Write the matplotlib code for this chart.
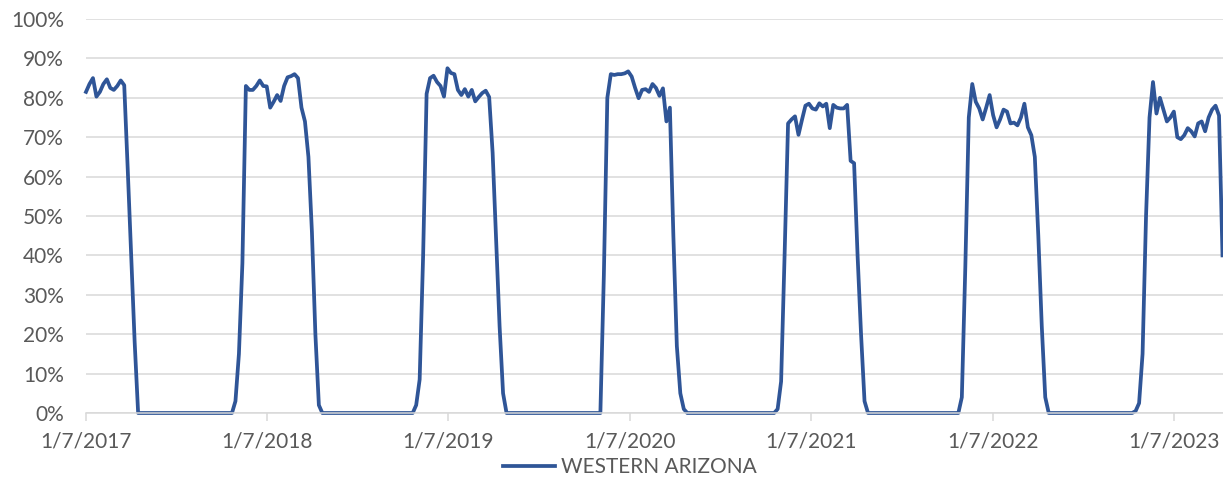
import numpy as np
import pandas as pd
import matplotlib
matplotlib.use("Agg")
import matplotlib.pyplot as plt
import matplotlib.dates as mdates
from matplotlib.ticker import PercentFormatter, MultipleLocator, FuncFormatter

plt.rcParams["font.family"] = ["Lato", "DejaVu Sans"]

# weekly series, first week 1/7/2017
weeks = pd.date_range("2017-01-07", periods=328, freq="7D")

# in-season values (%); weeks outside a season are 0
season_2017 = [81.5, 83.5, 85, 80.3, 81.5, 83.5, 84.7, 82.5, 82, 83, 84.4, 83.2, 62, 40, 18]
season_2018 = [3, 15, 38, 83, 82, 82, 83, 84.4, 83, 82.9, 77.5, 79, 80.7, 79.2, 83, 85.2,
               85.5, 86, 85, 77.5, 74, 65, 46, 20, 2]
season_2019 = [2, 8.5, 40, 81, 85, 85.6, 84, 83, 80.3, 87.5, 86.3, 86, 82, 80.7, 82.2, 80.3,
               82, 79.1, 80.2, 81.2, 81.8, 80.2, 66, 44, 22, 5]
season_2020 = [35, 80, 86, 85.8, 86, 86, 86.2, 86.7, 85.4, 82.5, 79.9, 82, 82.2, 81.5, 83.5,
               82.5, 80.5, 82.4, 74, 77.5, 45, 17, 5, 1]
season_2021 = [1, 8, 40, 73.5, 74.5, 75.3, 70.6, 74.4, 78, 78.5, 77.3, 77, 78.6, 77.8, 78.5,
               72.3, 78.2, 77.5, 77.3, 77.3, 78.2, 64, 63.4, 40, 20, 3]
season_2022 = [4, 37, 75, 83.5, 79, 77.3, 74.5, 77.5, 80.7, 75.6, 72.5, 74.5, 77, 76.5, 73.5,
               73.7, 73, 75, 78.5, 72.5, 70.5, 65, 45, 22, 4]
season_2023 = [0.5, 2.5, 15, 50, 75, 84, 76, 80, 77, 74, 75, 76.5, 70, 69.5, 70.5, 72.3, 71.5,
               70.2, 73.5, 74, 71.5, 75, 77, 78, 75.5, 40]

# week number where each season's list begins
season_start = [0, 43, 95, 149, 199, 252, 302]
seasons = [season_2017, season_2018, season_2019, season_2020,
           season_2021, season_2022, season_2023]

values = np.zeros(len(weeks))
for start, vals in zip(season_start, seasons):
    values[start:start + len(vals)] = vals

fig = plt.figure(figsize=(12.23, 4.9), dpi=100)
ax = fig.add_axes([86 / 1223, 1 - 413 / 490, 1 - 86 / 1223, (413 - 19) / 490])

line, = ax.plot(weeks, values / 100, color="#2f5597", lw=2.7,
                solid_joinstyle="round", clip_on=False, label="WESTERN ARIZONA")

ax.set_ylim(0, 1)
ax.set_xlim(weeks[0], pd.Timestamp("2023-04-16"))
ax.yaxis.set_major_locator(MultipleLocator(0.1))
ax.yaxis.set_major_formatter(PercentFormatter(1.0, decimals=0))
ax.xaxis.set_major_locator(mdates.YearLocator(base=1, month=1, day=7))
ax.xaxis.set_major_formatter(FuncFormatter(
    lambda v, p: (lambda d: f"{d.month}/{d.day}/{d.year}")(mdates.num2date(v))))

ax.yaxis.grid(True, color="#d9d9d9", lw=1.1)
ax.set_axisbelow(True)
for s in ["top", "right", "left"]:
    ax.spines[s].set_visible(False)
ax.spines["bottom"].set_color("#d9d9d9")
ax.spines["bottom"].set_linewidth(1.1)

ax.tick_params(axis="y", length=0, pad=16, labelsize=15, labelcolor="#595959")
ax.tick_params(axis="x", length=6, width=1.1, color="#d9d9d9", pad=7,
               labelsize=15, labelcolor="#595959")

fig.legend(handles=[line], loc="center", bbox_to_anchor=(630 / 1223, 1 - 467 / 490),
           frameon=False, fontsize=15, handlelength=2.5, handletextpad=0.3,
           labelcolor="#595959")

fig.savefig("out.png", dpi=100)
